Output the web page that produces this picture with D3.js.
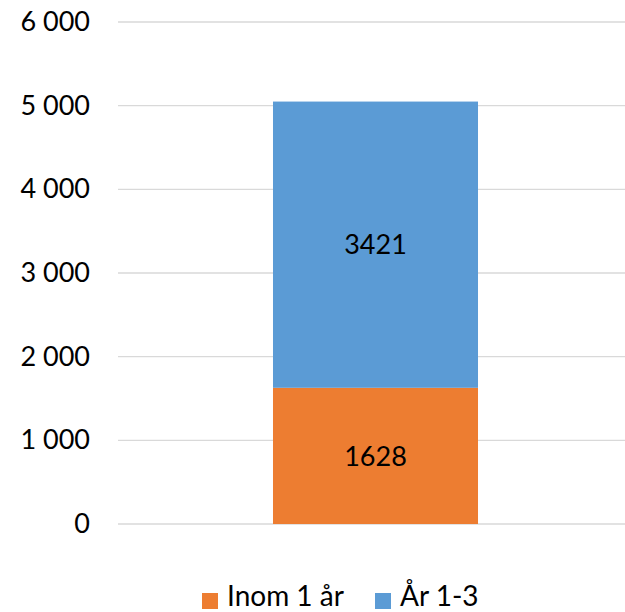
<!DOCTYPE html>
<html>
<head>
<meta charset="utf-8">
<script src="https://cdn.jsdelivr.net/npm/d3@7"></script>
<style>
  html, body { margin: 0; padding: 0; background: #fff; }
  text { font-family: Lato, "Open Sans", sans-serif; fill: #000; }
</style>
</head>
<body>
<svg id="chart" width="625" height="612"></svg>
<script>
// Stacked segments, bottom to top
const categories = ["Total"];
const seriesNames = ["Inom 1 år", "År 1-3"];
const seriesValues = [[1628], [3421]];
const seriesColors = ["#ED7D31", "#5B9BD5"];
const yTicks = [0, 1000, 2000, 3000, 4000, 5000, 6000];

const svg = d3.select("#chart");
const margin = { left: 118, right: 0, top: 22, bottom: 88 };
const W = 625, H = 612;

const y = d3.scaleLinear().domain([0, 6000]).range([H - margin.bottom, margin.top]);
const x = d3.scaleBand().domain(categories).range([margin.left, 633]).paddingInner(0).paddingOuter(0.756);

const fmt = v => d3.format(",")(v).replace(/,/g, " ");

// Gridlines
svg.append("g")
  .selectAll("line")
  .data(yTicks)
  .join("line")
  .attr("x1", margin.left).attr("x2", W - margin.right)
  .attr("y1", d => y(d)).attr("y2", d => y(d))
  .attr("stroke", "#D9D9D9").attr("stroke-width", 1.3);

// Y axis labels
const yAxis = d3.axisLeft(y).tickValues(yTicks).tickFormat(fmt).tickSize(0).tickPadding(28);
const ya = svg.append("g").attr("transform", `translate(${margin.left},0)`).call(yAxis);
ya.select(".domain").remove();
ya.selectAll("text").style("font-size", "27px").style("font-family", "Lato, sans-serif").attr("fill", "#000");

// Stacked bars
const stackData = categories.map((c, i) => {
  const row = { cat: c };
  seriesNames.forEach((s, j) => row[s] = seriesValues[j][i]);
  return row;
});
const stacked = d3.stack().keys(seriesNames)(stackData);

const layers = svg.append("g").selectAll("g")
  .data(stacked)
  .join("g")
  .attr("fill", (d, i) => seriesColors[i]);

layers.selectAll("rect")
  .data(d => d)
  .join("rect")
  .attr("x", d => x(d.data.cat))
  .attr("width", x.bandwidth())
  .attr("y", d => y(d[1]))
  .attr("height", d => y(d[0]) - y(d[1]));

// Segment value labels
layers.selectAll("text")
  .data(d => d.map(v => ({ v, key: d.key })))
  .join("text")
  .attr("x", d => x(d.v.data.cat) + x.bandwidth() / 2)
  .attr("y", d => (y(d.v[0]) + y(d.v[1])) / 2)
  .attr("dy", "0.36em")
  .attr("text-anchor", "middle")
  .style("font-size", "27px")
  .text(d => d.v.data[d.key]);

// Legend (baseline near the bottom edge)
const legend = svg.append("g").attr("transform", "translate(0,606)");
const legendX = [202, 375];
seriesNames.forEach((s, i) => {
  legend.append("rect")
    .attr("x", legendX[i]).attr("y", -13)
    .attr("width", 16).attr("height", 16)
    .attr("fill", seriesColors[i]);
  legend.append("text")
    .attr("x", legendX[i] + 25).attr("y", 0)
    .style("font-size", "28px")
    .text(s);
});
</script>
</body>
</html>
